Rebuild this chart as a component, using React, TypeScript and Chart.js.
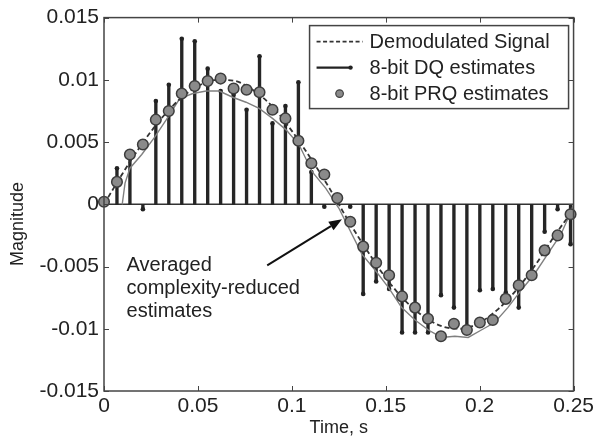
import React, { useEffect, useRef } from 'react';
import { Chart, registerables } from 'chart.js';

Chart.register(...registerables);

// ---------- data ----------
const sampleTimes = [0, 0.0069, 0.0138, 0.0207, 0.0276, 0.0345, 0.0414, 0.0483, 0.0552, 0.0621, 0.069, 0.0759, 0.0828, 0.0897, 0.0966, 0.1035, 0.1104, 0.1173, 0.1242, 0.1311, 0.138, 0.1449, 0.1518, 0.1587, 0.1656, 0.1725, 0.1794, 0.1863, 0.1932, 0.2001, 0.207, 0.2139, 0.2208, 0.2277, 0.2346, 0.2415, 0.2484];

// 8-bit DQ estimates (stems), samples k = 1..36
const dqValues = [0.0029, 0.0041, -0.0004, 0.0083, 0.0096, 0.0133, 0.0131, 0.0109, 0.0091, 0.0088, 0.0076, 0.0119, 0.0065, 0.0079, 0.0098, 0.0026, -0.0002, 0.0001, -0.0002, -0.0072, -0.0062, -0.0068, -0.0103, -0.0103, -0.0103, -0.0073, -0.0083, -0.0101, -0.0069, -0.0068, -0.0071, -0.0083, -0.0057, -0.0022, -0.0004, -0.0032];

// 8-bit PRQ estimates (circles), samples k = 0..36
const prqValues = [0.0002, 0.0018, 0.004, 0.0048, 0.0068, 0.0075, 0.0089, 0.0095, 0.0099, 0.0101, 0.0093, 0.0092, 0.009, 0.0076, 0.0069, 0.0051, 0.0033, 0.0024, 0.0005, -0.0014, -0.0034, -0.0047, -0.0057, -0.0074, -0.0083, -0.0092, -0.0106, -0.0096, -0.0101, -0.0095, -0.0093, -0.0076, -0.0065, -0.0057, -0.0037, -0.0025, -0.0008];

// Demodulated signal (dashed)
const signalTimes = [0, 0.01, 0.02, 0.03, 0.04, 0.05, 0.06, 0.07, 0.08, 0.09, 0.1, 0.11, 0.12, 0.13, 0.14, 0.15, 0.16, 0.17, 0.18, 0.19, 0.2, 0.21, 0.22, 0.23, 0.24, 0.25];
const signalValues = [0, 0.0025, 0.0048, 0.0068, 0.0084, 0.0095, 0.01, 0.0099, 0.0091, 0.0078, 0.0059, 0.0037, 0.0013, -0.0013, -0.0037, -0.0059, -0.0077, -0.009, -0.0098, -0.01, -0.0095, -0.0084, -0.0068, -0.0048, -0.0025, -0.0004];

// Averaged complexity-reduced estimates (thin gray)
const avgTimes = [0.0097, 0.0112, 0.0138, 0.0201, 0.027, 0.0332, 0.0403, 0.0473, 0.0544, 0.0614, 0.0685, 0.0756, 0.0826, 0.0897, 0.0968, 0.1038, 0.1109, 0.118, 0.125, 0.1373, 0.1444, 0.1515, 0.1585, 0.1656, 0.1727, 0.1797, 0.1868, 0.1939, 0.2009, 0.208, 0.215, 0.2221, 0.2292, 0.2362, 0.2433, 0.2486, 0.25];
const avgValues = [0, 0.0017, 0.0029, 0.004, 0.0054, 0.0068, 0.0085, 0.0089, 0.0091, 0.0091, 0.0086, 0.0082, 0.0077, 0.0069, 0.006, 0.0048, 0.0026, 0.0013, -0.0003, -0.004, -0.0053, -0.0067, -0.0083, -0.0093, -0.0101, -0.0107, -0.0106, -0.0107, -0.0101, -0.0095, -0.0083, -0.0069, -0.0056, -0.004, -0.0024, -0.0006, 0];

const xTickValues = [0, 0.05, 0.1, 0.15, 0.2, 0.25];
const xTickLabels = ['0', '0.05', '0.1', '0.15', '0.2', '0.25'];
const yTickValues = [-0.015, -0.01, -0.005, 0, 0.005, 0.01, 0.015];
const yTickLabels = ['-0.015', '-0.01', '-0.005', '0', '0.005', '0.01', '0.015'];

const legendLabels = ['Demodulated Signal', '8-bit DQ estimates', '8-bit PRQ estimates'];
const annotationLines = ['Averaged', 'complexity-reduced', 'estimates'];
const annotationAnchor = { x: 0.012, y: -0.0049 };
const arrowFrom = { x: 0.0869, y: -0.0049 };
const arrowTo = { x: 0.1267, y: -0.0012 };
const xTitle = 'Time, s';
const yTitle = 'Magnitude';

const FONT = "'Liberation Sans', Arial, Helvetica, sans-serif";
const TEXT = '#222';

const overlayPlugin = {
  id: 'overlay',
  beforeDraw(chart: any) {
    const { ctx, width, height } = chart;
    ctx.save();
    ctx.fillStyle = '#fff';
    ctx.fillRect(0, 0, width, height);
    ctx.restore();
  },
  afterDatasetsDraw(chart: any) {
    const { ctx, chartArea: ca, scales } = chart;
    const xs = scales.x;
    const ys = scales.y;
    ctx.save();
    // frame
    ctx.strokeStyle = '#444';
    ctx.lineWidth = 1.5;
    ctx.strokeRect(ca.left, ca.top, ca.right - ca.left, ca.bottom - ca.top);
    // inward ticks
    ctx.lineWidth = 1;
    const tl = 5;
    ctx.beginPath();
    xTickValues.forEach((v) => {
      const px = Math.round(xs.getPixelForValue(v)) + 0.5;
      ctx.moveTo(px, ca.bottom);
      ctx.lineTo(px, ca.bottom - tl);
      ctx.moveTo(px, ca.top);
      ctx.lineTo(px, ca.top + tl);
    });
    yTickValues.forEach((v) => {
      const py = Math.round(ys.getPixelForValue(v)) + 0.5;
      ctx.moveTo(ca.left, py);
      ctx.lineTo(ca.left + tl, py);
      ctx.moveTo(ca.right, py);
      ctx.lineTo(ca.right - tl, py);
    });
    ctx.stroke();

    // legend box
    const lx = ca.right - 264;
    const ly = ca.top + 8;
    const lw = 259;
    const lh = 83;
    ctx.fillStyle = '#fff';
    ctx.fillRect(lx, ly, lw, lh);
    ctx.strokeStyle = '#444';
    ctx.lineWidth = 1.5;
    ctx.strokeRect(lx, ly, lw, lh);
    const rows = [ly + 16, ly + 42, ly + 68];
    // row 1: dashed
    ctx.strokeStyle = '#333';
    ctx.lineWidth = 1.6;
    ctx.setLineDash([4, 2.5]);
    ctx.beginPath();
    ctx.moveTo(lx + 7, rows[0]);
    ctx.lineTo(lx + 53, rows[0]);
    ctx.stroke();
    ctx.setLineDash([]);
    // row 2: solid with dot
    ctx.strokeStyle = '#222';
    ctx.lineWidth = 2.2;
    ctx.beginPath();
    ctx.moveTo(lx + 7, rows[1]);
    ctx.lineTo(lx + 41, rows[1]);
    ctx.stroke();
    ctx.fillStyle = '#222';
    ctx.beginPath();
    ctx.arc(lx + 41, rows[1], 2.2, 0, Math.PI * 2);
    ctx.fill();
    // row 3: circle
    ctx.fillStyle = '#8a8a8a';
    ctx.strokeStyle = '#404040';
    ctx.lineWidth = 1.2;
    ctx.beginPath();
    ctx.arc(lx + 30, rows[2], 3.8, 0, Math.PI * 2);
    ctx.fill();
    ctx.stroke();
    ctx.fillStyle = TEXT;
    ctx.font = `20px ${FONT}`;
    ctx.textBaseline = 'middle';
    ctx.textAlign = 'left';
    legendLabels.forEach((t, i) => ctx.fillText(t, lx + 60, rows[i] + 1));

    // annotation
    const ax = xs.getPixelForValue(annotationAnchor.x);
    const ay = ys.getPixelForValue(annotationAnchor.y);
    annotationLines.forEach((t, i) => ctx.fillText(t, ax, ay + i * 23));
    const x1 = xs.getPixelForValue(arrowFrom.x);
    const y1 = ys.getPixelForValue(arrowFrom.y);
    const x2 = xs.getPixelForValue(arrowTo.x);
    const y2 = ys.getPixelForValue(arrowTo.y);
    const ang = Math.atan2(y2 - y1, x2 - x1);
    const hl = 13;
    const hw = 5;
    const bx = x2 - hl * Math.cos(ang);
    const by = y2 - hl * Math.sin(ang);
    ctx.strokeStyle = '#111';
    ctx.lineWidth = 2;
    ctx.beginPath();
    ctx.moveTo(x1, y1);
    ctx.lineTo(bx, by);
    ctx.stroke();
    ctx.fillStyle = '#111';
    ctx.beginPath();
    ctx.moveTo(x2, y2);
    ctx.lineTo(bx + hw * Math.sin(ang), by - hw * Math.cos(ang));
    ctx.lineTo(bx - hw * Math.sin(ang), by + hw * Math.cos(ang));
    ctx.closePath();
    ctx.fill();

    // y title
    ctx.save();
    ctx.translate(18, 224);
    ctx.rotate(-Math.PI / 2);
    ctx.textAlign = 'center';
    ctx.textBaseline = 'middle';
    ctx.font = `18px ${FONT}`;
    ctx.fillStyle = TEXT;
    ctx.fillText(yTitle, 0, 0);
    ctx.restore();
    ctx.restore();
  },
};

export default function App() {
  const ref = useRef<HTMLCanvasElement>(null);
  useEffect(() => {
    document.body.style.margin = '0';
    const canvas = ref.current;
    if (!canvas) return;
    const stems = sampleTimes.slice(1).map((t, i) => ({ x: t, y: [0, dqValues[i]] }));
    const tips = sampleTimes.slice(1).map((t, i) => ({ x: t, y: dqValues[i] }));
    const circles = sampleTimes.map((t, i) => ({ x: t, y: prqValues[i] }));
    const signal = signalTimes.map((t, i) => ({ x: t, y: signalValues[i] }));
    const avg = avgTimes.map((t, i) => ({ x: t, y: avgValues[i] }));
    const baseline = [
      { x: xTickValues[0], y: 0 },
      { x: xTickValues[xTickValues.length - 1], y: 0 },
    ];
    const chart = new Chart(canvas, {
      type: 'scatter',
      data: {
        datasets: [
          {
            type: 'scatter',
            label: 'PRQ',
            data: circles,
            pointRadius: 5.3,
            pointBackgroundColor: '#8a8a8a',
            pointBorderColor: '#3c3c3c',
            pointBorderWidth: 1.5,
            clip: false,
            order: 0,
          } as any,
          {
            type: 'line',
            label: 'signal',
            data: signal,
            borderColor: '#333',
            borderWidth: 1.8,
            borderDash: [5, 3],
            pointRadius: 0,
            cubicInterpolationMode: 'monotone',
            order: 1,
          } as any,
          {
            type: 'line',
            label: 'avg',
            data: avg,
            borderColor: '#808080',
            borderWidth: 1.4,
            pointRadius: 0,
            tension: 0,
            order: 2,
          } as any,
          {
            type: 'scatter',
            label: 'tips',
            data: tips,
            pointRadius: 2.3,
            pointBackgroundColor: '#222',
            pointBorderWidth: 0,
            clip: false,
            order: 3,
          } as any,
          {
            type: 'bar',
            label: 'DQ',
            data: stems,
            backgroundColor: '#262626',
            borderWidth: 0,
            barThickness: 2.7,
            grouped: false,
            order: 4,
          } as any,
          {
            type: 'line',
            label: 'baseline',
            data: baseline,
            borderColor: '#333',
            borderWidth: 1.5,
            pointRadius: 0,
            order: 5,
          } as any,
        ],
      },
      options: {
        responsive: false,
        devicePixelRatio: 1,
        animation: false,
        events: [],
        layout: { padding: { top: 15, right: 21, left: 0, bottom: 0 } },
        plugins: { legend: { display: false }, tooltip: { enabled: false } },
        scales: {
          x: {
            type: 'linear',
            offset: false,
            min: 0,
            max: 0.25,
            grid: { display: false, drawTicks: false },
            border: { display: false },
            afterBuildTicks: (s: any) => {
              s.ticks = xTickValues.map((v) => ({ value: v }));
            },
            afterFit: (s: any) => {
              s.height = 50;
            },
            ticks: {
              padding: 3,
              maxRotation: 0,
              autoSkip: false,
              color: TEXT,
              font: { family: FONT, size: 21 },
              callback: (_v: any, i: number) => xTickLabels[i],
            },
            title: {
              display: true,
              text: xTitle,
              color: TEXT,
              font: { family: FONT, size: 18 },
              padding: { top: 0, bottom: 2 },
            },
          },
          y: {
            type: 'linear',
            min: -0.015,
            max: 0.015,
            grid: { display: false, drawTicks: false },
            border: { display: false },
            afterBuildTicks: (s: any) => {
              s.ticks = yTickValues.map((v) => ({ value: v }));
            },
            afterFit: (s: any) => {
              s.width = 104;
            },
            ticks: {
              padding: 5,
              autoSkip: false,
              color: TEXT,
              font: { family: FONT, size: 21 },
              callback: (_v: any, i: number) => yTickLabels[i],
            },
          },
        },
      } as any,
      plugins: [overlayPlugin],
    });
    return () => chart.destroy();
  }, []);
  return (
    <div style={{ position: 'absolute', left: 0, top: 0, width: 597, height: 441, background: '#fff' }}>
      <canvas ref={ref} width={597} height={441} style={{ display: 'block' }} />
    </div>
  );
}
